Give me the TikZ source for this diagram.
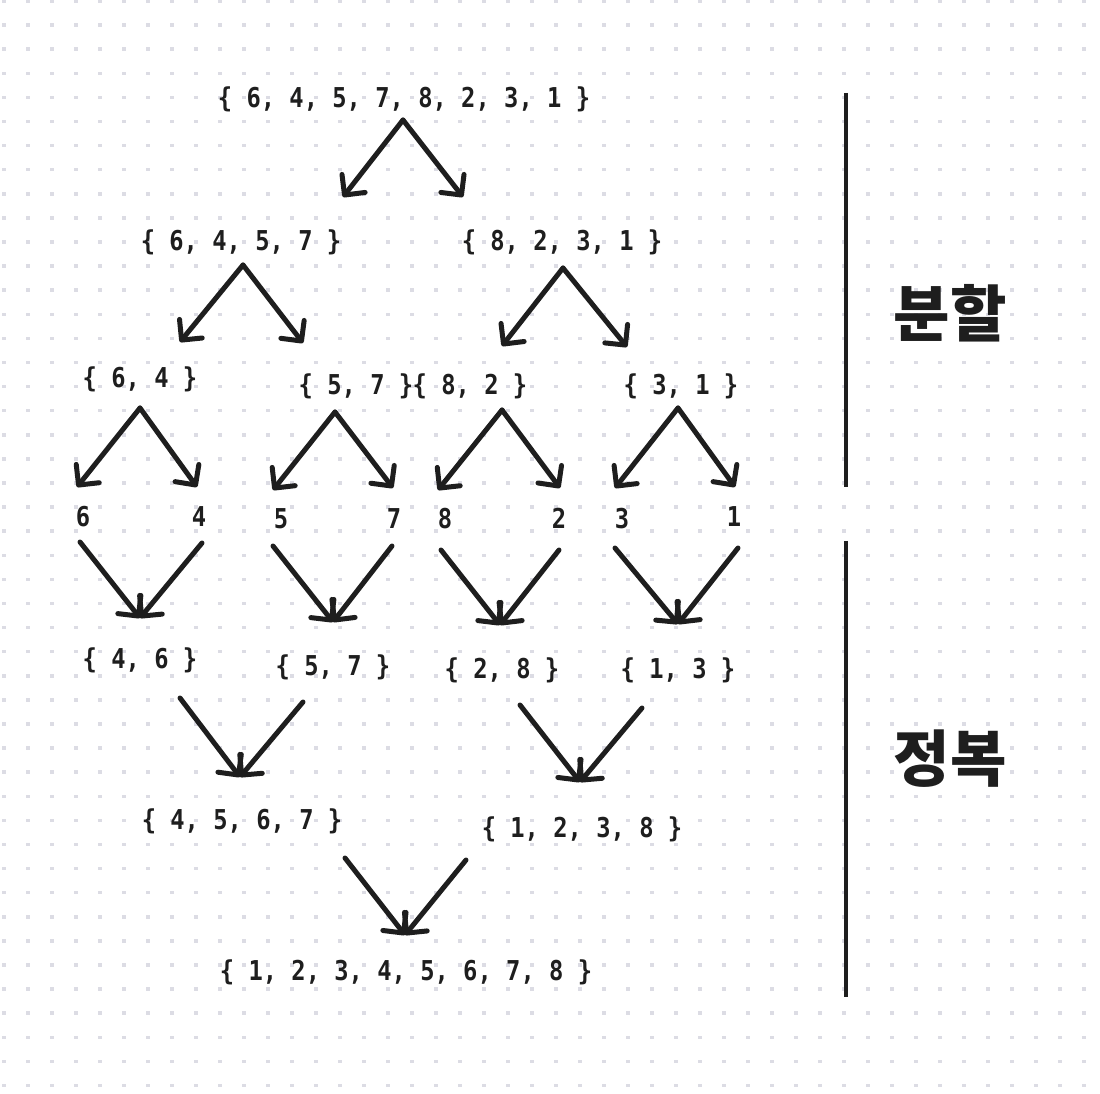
\documentclass[tikz,border=0pt]{standalone}
\usepackage{fontspec}
\newfontfamily\numfont{DejaVu Sans Mono}[FakeStretch=0.87]
\newfontfamily\krfont{Noto Sans CJK KR}
\usetikzlibrary{arrows.meta}
\definecolor{ink}{RGB}{30,30,30}
\definecolor{dotc}{RGB}{220,220,228}
\tikzset{
  lbl/.style={font=\numfont\bfseries\fontsize{20.5}{23}\selectfont, text=ink, anchor=base, inner sep=0pt},
  krlbl/.style={font=\krfont\bfseries\fontsize{46}{50}\selectfont, text=ink, inner sep=0pt},
  arr/.style={draw=ink, line width=3.75pt, line cap=round, -{Straight Barb[round,length=11pt,width=22pt]}},
  divline/.style={draw=ink, line width=3.6pt}
}
\begin{document}
\begin{tikzpicture}[x=0.75pt,y=-0.75pt]
\useasboundingbox (0,0) rectangle (1100,1094);
\fill[white] (0,0) rectangle (1100,1094);
\foreach \i in {0,...,45}{\foreach \j in {0,...,45}{\fill[dotc] ({4+24*\i-1.75},{1+24.1*\j-1.75}) rectangle ++(3.5,3.5);}}
% texts
\node[lbl] (t0) at (404,108) {\{ 6, 4, 5, 7, 8, 2, 3, 1 \}};
\node[lbl] (t1a) at (241,251) {\{ 6, 4, 5, 7 \}};
\node[lbl] (t1b) at (562,251) {\{ 8, 2, 3, 1 \}};
\node[lbl] (t2a) at (140,388) {\{ 6, 4 \}};
\node[lbl] (t2b) at (356,395) {\{ 5, 7 \}};
\node[lbl] (t2c) at (470,395) {\{ 8, 2 \}};
\node[lbl] (t2d) at (681,395) {\{ 3, 1 \}};
\node[lbl] (s6) at (83,527) {6};
\node[lbl] (s4) at (199,527) {4};
\node[lbl] (s5) at (281,529) {5};
\node[lbl] (s7) at (394,529) {7};
\node[lbl] (s8) at (445,529) {8};
\node[lbl] (s2) at (559,529) {2};
\node[lbl] (s3) at (622,529) {3};
\node[lbl] (s1) at (734,527) {1};
\node[lbl] (m4a) at (140,668) {\{ 4, 6 \}};
\node[lbl] (m4b) at (333,676) {\{ 5, 7 \}};
\node[lbl] (m4c) at (502,678) {\{ 2, 8 \}};
\node[lbl] (m4d) at (678,678) {\{ 1, 3 \}};
\node[lbl] (m5a) at (242,829) {\{ 4, 5, 6, 7 \}};
\node[lbl] (m5b) at (582,837) {\{ 1, 2, 3, 8 \}};
\node[lbl] (m6) at (406,980) {\{ 1, 2, 3, 4, 5, 6, 7, 8 \}};
\node[krlbl] (div) at (950,313) {분할};
\node[krlbl] (con) at (950,759) {정복};
% arrow end points
\coordinate (a0) at (403,120); \coordinate (a0l) at (343,197); \coordinate (a0r) at (463,197);
\coordinate (a1) at (243,265); \coordinate (a1l) at (180,342); \coordinate (a1r) at (303,343);
\coordinate (b1) at (563,268); \coordinate (b1l) at (502,346); \coordinate (b1r) at (627,347);
\coordinate (a2) at (140,408); \coordinate (a2l) at (77,487); \coordinate (a2r) at (197,487);
\coordinate (b2) at (335,412); \coordinate (b2l) at (273,490); \coordinate (b2r) at (393,488);
\coordinate (c2) at (502,410); \coordinate (c2l) at (438,490); \coordinate (c2r) at (560,488);
\coordinate (d2) at (678,408); \coordinate (d2l) at (615,488); \coordinate (d2r) at (735,487);
\coordinate (p6) at (80,542); \coordinate (p4) at (202,543); \coordinate (q1) at (140,618);
\coordinate (p5) at (273,546); \coordinate (p7) at (392,546); \coordinate (q2) at (333,622);
\coordinate (p8) at (441,550); \coordinate (p2) at (559,550); \coordinate (q3) at (500,625);
\coordinate (p3) at (615,548); \coordinate (p1) at (738,548); \coordinate (q4) at (678,624);
\coordinate (r1) at (180,698); \coordinate (r2) at (303,702); \coordinate (q5) at (240,777);
\coordinate (r3) at (520,705); \coordinate (r4) at (642,708); \coordinate (q6) at (580,782);
\coordinate (r5) at (345,858); \coordinate (r6) at (466,860); \coordinate (q7) at (405,935);
% split arrows
\draw[arr] (a0) -- (a0l); \draw[arr] (a0) -- (a0r);
\draw[arr] (a1) -- (a1l); \draw[arr] (a1) -- (a1r);
\draw[arr] (b1) -- (b1l); \draw[arr] (b1) -- (b1r);
\draw[arr] (a2) -- (a2l); \draw[arr] (a2) -- (a2r);
\draw[arr] (b2) -- (b2l); \draw[arr] (b2) -- (b2r);
\draw[arr] (c2) -- (c2l); \draw[arr] (c2) -- (c2r);
\draw[arr] (d2) -- (d2l); \draw[arr] (d2) -- (d2r);
% merge arrows
\draw[arr] (p6) -- (q1); \draw[arr] (p4) -- (q1);
\draw[arr] (p5) -- (q2); \draw[arr] (p7) -- (q2);
\draw[arr] (p8) -- (q3); \draw[arr] (p2) -- (q3);
\draw[arr] (p3) -- (q4); \draw[arr] (p1) -- (q4);
\draw[arr] (r1) -- (q5); \draw[arr] (r2) -- (q5);
\draw[arr] (r3) -- (q6); \draw[arr] (r4) -- (q6);
\draw[arr] (r5) -- (q7); \draw[arr] (r6) -- (q7);
% dividers
\coordinate (v1s) at (846,93); \coordinate (v1e) at (846,487);
\coordinate (v2s) at (846,541); \coordinate (v2e) at (846,997);
\draw[divline] (v1s) -- (v1e);
\draw[divline] (v2s) -- (v2e);
\end{tikzpicture}
\end{document}
